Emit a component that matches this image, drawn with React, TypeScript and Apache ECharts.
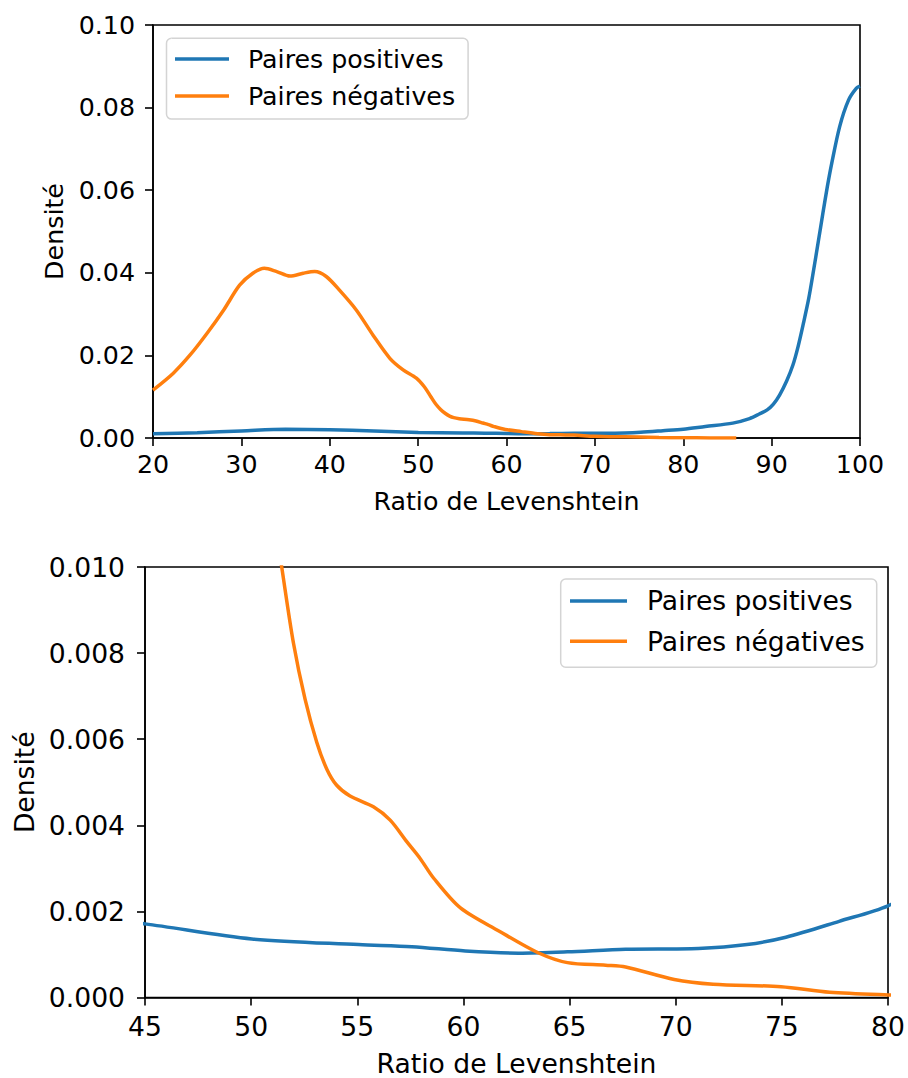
import React, { useEffect, useRef } from "react";
import * as echarts from "echarts";

const SERIES_POS = "Paires positives";
const SERIES_NEG = "Paires négatives";
const X_TITLE = "Ratio de Levenshtein";
const Y_TITLE = "Densité";

// Paires négatives (x, densité)
const negX = [20, 22.3, 24.2, 26.1, 28.0, 29.8, 31.3, 32.6, 34.0, 35.5, 37.0, 38.3, 39.6, 41.1, 43.0, 44.9, 46.8, 48.3, 49.8, 50.7, 51.44, 51.99, 52.54, 53.09, 53.56, 54.03, 54.66, 55.76, 56.55, 57.33, 57.96, 58.6, 59.86, 61.69, 63.52, 64.9, 66.7, 67.64, 69.93, 71.76, 74.96, 77.25, 80, 83, 86];
const negY = [0.0116, 0.0157, 0.0201, 0.0253, 0.031, 0.037, 0.0399, 0.0411, 0.0403, 0.0392, 0.0399, 0.0403, 0.0391, 0.0358, 0.031, 0.0249, 0.0193, 0.0165, 0.0145, 0.0124, 0.01, 0.00824, 0.00693, 0.00593, 0.00531, 0.00493, 0.00468, 0.00443, 0.00412, 0.00362, 0.00323, 0.00277, 0.00208, 0.00154, 0.00104, 0.00081, 0.00075, 0.00071, 0.00042, 0.00031, 0.00025, 0.00012, 0.00006, 0.00002, 0.00001];

// Paires positives (x, densité)
const posX = [20, 25, 30, 35, 40, 45, 50.03, 55.06, 57.57, 60.09, 62.6, 64.9, 67.64, 71.07, 73.36, 75.19, 77.7, 80, 82.5, 85.6, 87.5, 88.6, 89.5, 90.2, 90.9, 91.7, 92.4, 93.0, 93.6, 94.2, 94.7, 95.3, 95.8, 96.3, 96.8, 97.7, 98.7, 99.6, 100];
const posY = [0.001, 0.0013, 0.0017, 0.0021, 0.002, 0.00171, 0.00136, 0.00123, 0.00118, 0.00108, 0.00103, 0.00106, 0.00112, 0.00114, 0.00123, 0.0014, 0.00177, 0.00213, 0.0028, 0.0036, 0.0047, 0.0058, 0.0068, 0.0082, 0.0104, 0.0138, 0.0176, 0.0222, 0.0278, 0.0338, 0.0400, 0.0478, 0.0544, 0.0608, 0.0665, 0.0754, 0.0818, 0.0847, 0.0852];

// Axis ranges / ticks
const topX = { min: 20, max: 100, interval: 10 };
const topY = { min: 0, max: 0.1, interval: 0.02, digits: 2 };
const botX = { min: 45, max: 80, interval: 5 };
const botY = { min: 0, max: 0.01, interval: 0.002, digits: 3 };

const BLUE = "#1f77b4";
const ORANGE = "#ff7f0e";
const FONT = "DejaVu Sans";

function pairs(xs: number[], ys: number[]) {
  return xs.map((x, i) => [x, ys[i]]);
}

export default function App() {
  const ref = useRef<HTMLDivElement>(null);
  useEffect(() => {
    document.body.style.margin = "0";
    document.body.style.overflow = "hidden";
    if (!ref.current) return;
    const chart = echarts.init(ref.current, null, { renderer: "svg" });

    const mkX = (idx: number, r: any, fs: number, gap: number, labelMargin: number) => ({
      type: "value",
      gridIndex: idx,
      min: r.min,
      max: r.max,
      interval: r.interval,
      name: X_TITLE,
      nameLocation: "middle",
      nameGap: gap,
      nameTextStyle: { color: "#000", fontSize: fs, fontFamily: FONT, lineHeight: 20 },
      axisLine: { show: true, onZero: false, lineStyle: { color: "#000", width: 1.6 } },
      axisTick: { show: true, inside: false, length: 8, lineStyle: { color: "#000", width: 1.6 } },
      axisLabel: { color: "#000", fontSize: fs, fontFamily: FONT, margin: labelMargin },
      splitLine: { show: false },
    });
    const mkY = (idx: number, r: any, fs: number, gap: number, labelMargin: number) => ({
      type: "value",
      gridIndex: idx,
      min: r.min,
      max: r.max,
      interval: r.interval,
      name: Y_TITLE,
      nameLocation: "middle",
      nameGap: gap,
      nameTextStyle: { color: "#000", fontSize: fs, fontFamily: FONT },
      axisLine: { show: true, onZero: false, lineStyle: { color: "#000", width: 1.6 } },
      axisTick: { show: true, inside: false, length: 8, lineStyle: { color: "#000", width: 1.6 } },
      axisLabel: {
        color: "#000",
        fontSize: fs,
        fontFamily: FONT,
        margin: labelMargin,
        formatter: (v: number) => v.toFixed(r.digits),
      },
      splitLine: { show: false },
    });

    const line = (name: string, color: string, xs: number[], ys: number[], idx: number) => ({
      type: "line",
      name,
      xAxisIndex: idx,
      yAxisIndex: idx,
      data: pairs(xs, ys),
      showSymbol: false,
      symbol: "none",
      smooth: 0.3,
      clip: true,
      lineStyle: { color, width: 3.5 },
      itemStyle: { color },
      emphasis: { disabled: true },
    });

    const legendBase = (fs: number, w: number, gap: number, padding: number[], textPad: number) => ({
      orient: "vertical",
      data: [SERIES_POS, SERIES_NEG],
      icon: "rect",
      itemWidth: w,
      itemHeight: 3.5,
      itemGap: gap,
      padding,
      borderColor: "#d4d4d4",
      borderWidth: 1.5,
      borderRadius: 5,
      backgroundColor: "rgba(255,255,255,0.8)",
      selectedMode: false,
      textStyle: { color: "#000", fontSize: fs, fontFamily: FONT, padding: [0, 0, 0, textPad] },
    });

    const FS1 = 25.3;
    const FS2 = 26.6;

    chart.setOption({
      animation: false,
      backgroundColor: "#fff",
      grid: [
        { left: 153, top: 25, width: 707, height: 413, show: true, borderColor: "#000", borderWidth: 1.6, backgroundColor: "transparent" },
        { left: 145, top: 567, width: 743, height: 433, show: true, borderColor: "#000", borderWidth: 1.6, backgroundColor: "transparent" },
      ],
      xAxis: [mkX(0, topX, FS1, 53, 14), mkX(1, botX, FS2, 56, 15)],
      yAxis: [mkY(0, topY, FS1, 86, 18), mkY(1, botY, FS2, 104, 20)],
      legend: [
        { ...legendBase(FS1, 54, 12, [8.3, 13, 10.5, 8.5], 14), left: 166.5, top: 38.3 },
        { ...legendBase(FS2, 57, 13.4, [8.4, 12, 12.5, 9.3], 15), left: 560.7, top: 579 },
      ],
      series: [
        line(SERIES_POS, BLUE, posX, posY, 0),
        line(SERIES_NEG, ORANGE, negX, negY, 0),
        line(SERIES_POS, BLUE, posX, posY, 1),
        line(SERIES_NEG, ORANGE, negX, negY, 1),
      ],
    });
    return () => chart.dispose();
  }, []);
  return <div ref={ref} style={{ width: 908, height: 1078, overflow: "hidden" }} />;
}
